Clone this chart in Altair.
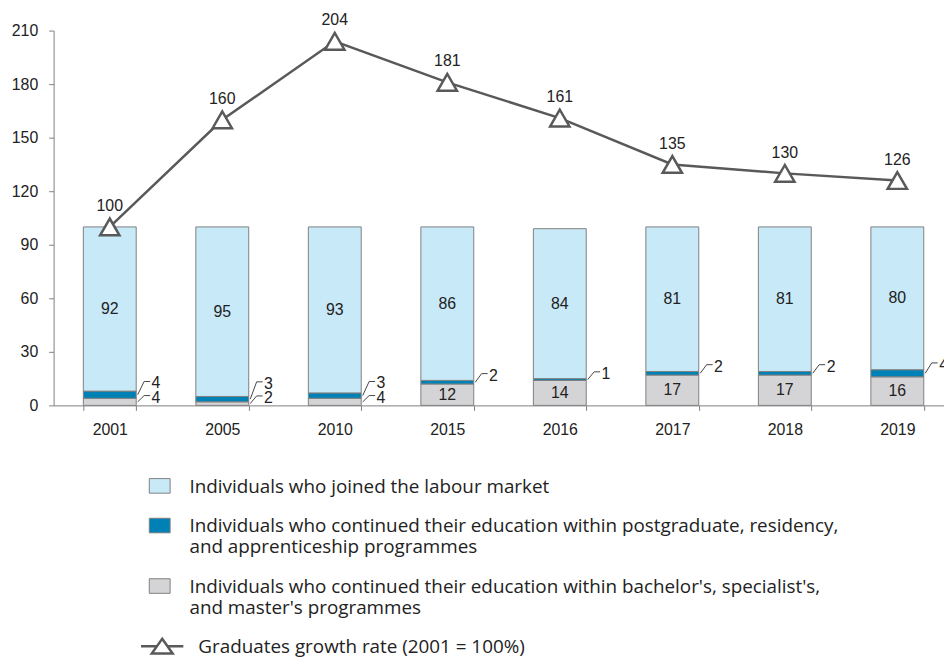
import altair as alt
import pandas as pd

years = ["2001", "2005", "2010", "2015", "2016", "2017", "2018", "2019"]
labour = [92, 95, 93, 86, 84, 81, 81, 80]
postgrad = [4, 3, 3, 2, 1, 2, 2, 4]
bachelor = [4, 2, 4, 12, 14, 17, 17, 16]
growth = [100, 160, 204, 181, 161, 135, 130, 126]

cat_labour = "Individuals who joined the labour market"
cat_post = "Individuals who continued their education within postgraduate, residency,|and apprenticeship programmes"
cat_bach = "Individuals who continued their education within bachelor's, specialist's,|and master's programmes"
line_name = "Graduates growth rate (2001 = 100%)"

C_LIGHT = "#C8E9F8"
C_BLUE = "#0081B6"
C_GRAY = "#D4D4D6"
C_LINE = "#595959"
C_EDGE = "#7f7f7f"
C_TEXT = "#222222"
FONT = "Liberation Sans"
LFONT = "Open Sans"

# ---- tables built from the arrays ----
bar_rows, in_rows, call_rows = [], [], []
for i, yr in enumerate(years):
    b, p, l = bachelor[i], postgrad[i], labour[i]
    bar_rows += [
        dict(year=yr, cat=cat_bach, y0=0, y1=b),
        dict(year=yr, cat=cat_post, y0=b, y1=b + p),
        dict(year=yr, cat=cat_labour, y0=b + p, y1=b + p + l),
    ]
    in_rows.append(dict(year=yr, v=l, mid=b + p + l / 2))
    gray_ly = None
    if b >= 10:
        in_rows.append(dict(year=yr, v=b, mid=b / 2))
    else:
        gray_ly = max(b + 1.5, 5.3)
        call_rows.append(dict(year=yr, v=b, mid=b / 2, ly=gray_ly))
    blue_ly = b + p + 3.8
    if gray_ly is not None:
        blue_ly = max(blue_ly, gray_ly + 7.9)
    call_rows.append(dict(year=yr, v=p, mid=b + p / 2, ly=blue_ly))

df_bars = pd.DataFrame(bar_rows)
df_in = pd.DataFrame(in_rows)
df_call = pd.DataFrame(call_rows)
df_line = pd.DataFrame(dict(year=years, g=growth, name=[line_name] * len(years)))

xscale = alt.Scale(paddingInner=0.53, paddingOuter=0.222, align=0.595)
xaxis = alt.Axis(labelAngle=0, tickBand="extent", tickSize=5, labelPadding=11,
                 labelFontSize=16, labelFont=FONT, labelColor=C_TEXT,
                 domainColor=C_EDGE, tickColor=C_EDGE, grid=False, title=None)
yscale = alt.Scale(domain=[0, 210], nice=False)
yaxis = alt.Axis(values=list(range(0, 211, 30)), tickSize=5, labelPadding=11,
                 labelFontSize=16, labelFont=FONT, labelColor=C_TEXT,
                 domainColor=C_EDGE, tickColor=C_EDGE, grid=False, title=None)


def X(bp=None):
    if bp is None:
        return alt.X("year:N", sort=years)
    return alt.X("year:N", sort=years, bandPosition=bp)


bars = alt.Chart(df_bars).mark_bar(stroke=C_EDGE, strokeWidth=1).encode(
    x=alt.X("year:N", sort=years, scale=xscale, axis=xaxis),
    y=alt.Y("y0:Q", scale=yscale, axis=yaxis),
    y2="y1:Q",
    fill=alt.Fill(
        "cat:N",
        scale=alt.Scale(domain=[cat_labour, cat_post, cat_bach], range=[C_LIGHT, C_BLUE, C_GRAY]),
        legend=alt.Legend(
            title=None, orient="none", legendX=96, legendY=440, direction="vertical",
            symbolType="M-1,0.08H1V1.48H-1Z", symbolSize=441,
            symbolStrokeColor=C_EDGE, symbolStrokeWidth=1,
            labelFont=LFONT, labelFontSize=19, labelColor=C_TEXT, labelBaseline="top",
            labelLimit=900, labelOffset=19, rowPadding=10,
            labelExpr="split(datum.label, '|')",
        ),
    ),
)

inside = alt.Chart(df_in).mark_text(fontSize=16, font=FONT, color=C_TEXT, baseline="middle").encode(
    x=X(), y=alt.Y("mid:Q"), text="v:Q"
)

diag = alt.Chart(df_call).mark_rule(color="#444444", strokeWidth=1, xOffset=1.5, x2Offset=8).encode(
    x=X(1), x2=alt.X2("year", bandPosition=1), y="mid:Q", y2="ly:Q"
)
horiz = alt.Chart(df_call).mark_rule(color="#444444", strokeWidth=1, xOffset=8, x2Offset=14).encode(
    x=X(1), x2=alt.X2("year", bandPosition=1), y="ly:Q"
)
call_text = alt.Chart(df_call).mark_text(align="left", baseline="middle", dx=15.5, dy=2,
                                         fontSize=16, font=FONT, color=C_TEXT).encode(
    x=X(1), y="ly:Q", text="v:Q"
)

tri_path = "M-2.37,0.93H-0.58M0.58,0.93H2.37M0,0.1L1.17,1.76L-1.17,1.76Z"
line = alt.Chart(df_line).mark_line(strokeWidth=2.5).encode(
    x=X(),
    y=alt.Y("g:Q"),
    stroke=alt.Stroke(
        "name:N",
        scale=alt.Scale(domain=[line_name], range=[C_LINE]),
        legend=alt.Legend(
            title=None, orient="none", legendX=99, legendY=602,
            symbolType=tri_path, symbolSize=324, symbolStrokeWidth=2.5,
            symbolFillColor="white",
            labelFont=LFONT, labelFontSize=19, labelColor=C_TEXT, labelBaseline="top",
            labelLimit=900, labelOffset=26,
        ),
    ),
)
points = alt.Chart(df_line).mark_point(shape="triangle-up", size=380, filled=True, fill="white",
                                       stroke=C_LINE, strokeWidth=2.5, opacity=1).encode(
    x=X(), y=alt.Y("g:Q")
)
line_text = alt.Chart(df_line).mark_text(dy=-21, fontSize=16, font=FONT, color=C_TEXT).encode(
    x=X(), y=alt.Y("g:Q"), text="g:Q"
)

chart = alt.layer(bars, inside, diag, horiz, call_text, line, points, line_text).properties(
    width=898, height=378,
    autosize=alt.AutoSizeParams(type="none"),
    padding={"left": 46, "top": 20, "right": 0, "bottom": 254},
).configure_view(stroke=None)

chart.save("out.html", embed_options={"renderer": "svg", "actions": False})
